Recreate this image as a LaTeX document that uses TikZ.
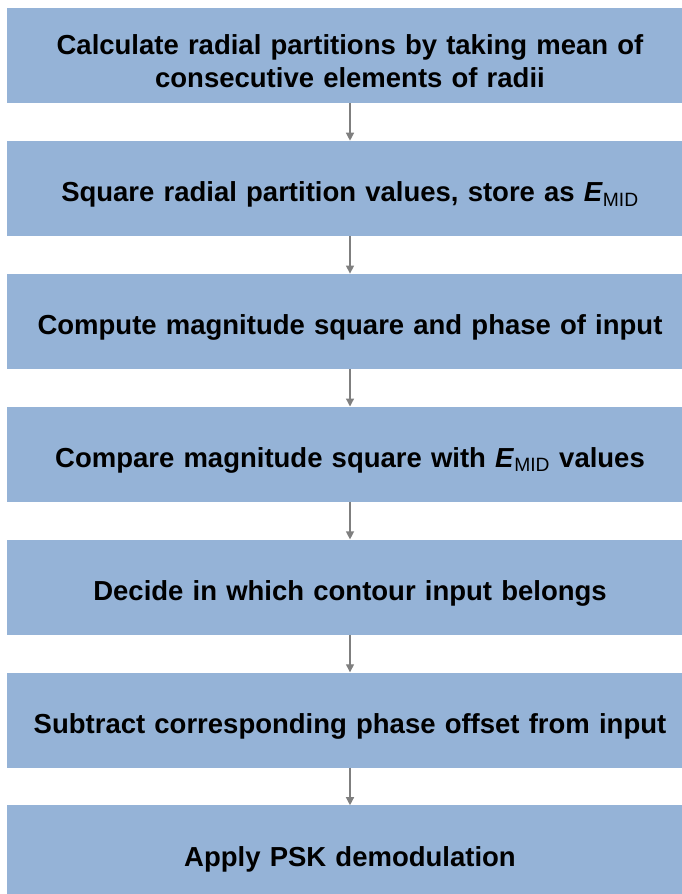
\documentclass[tikz,border=0pt]{standalone}
\usepackage{fontspec}
\setmainfont{Liberation Sans}
\usetikzlibrary{positioning,arrows.meta}
\definecolor{stepblue}{HTML}{95B3D7}
\definecolor{linkgrey}{HTML}{7F7F7F}
\newcommand\emid{\textit{E}\textsubscript{\mdseries MID}}

\begin{document}
\begin{tikzpicture}[
			x=1pt,y=-1pt,
			stepbox/.style={fill=stepblue,draw=none,rectangle,minimum width=686pt,minimum height=95pt,
				text width=670pt,align=center,inner sep=0pt,font=\fontsize{27.5}{33}\selectfont\bfseries,
				execute at begin node={\rule{0pt}{32pt}}},
			link/.style={draw=linkgrey,line width=1.3pt,-{Triangle[length=8pt,width=8pt]}},
			node distance=37.5pt
		]
		\useasboundingbox (0,0) rectangle (681,894);
		\node [stepbox] (s1) at (350,55.5) {Calculate radial partitions by taking mean of\\consecutive elements of radii};
		\node [stepbox,below=of s1] (s2) {Square radial partition values, store as \emid};
		\node [stepbox,below=of s2] (s3) {Compute magnitude square and phase of input};
		\node [stepbox,below=of s3] (s4) {Compare magnitude square with \emid{} values};
		\node [stepbox,below=of s4] (s5) {Decide in which contour input belongs};
		\node [stepbox,below=of s5] (s6) {Subtract corresponding phase offset from input};
		\node [stepbox,below=of s6] (s7) {Apply PSK demodulation};

		\foreach \a/\b in {s1/s2,s2/s3,s3/s4,s4/s5,s5/s6,s6/s7}
			\draw[link] (\a) -- (\b);
	\end{tikzpicture}
\end{document}
